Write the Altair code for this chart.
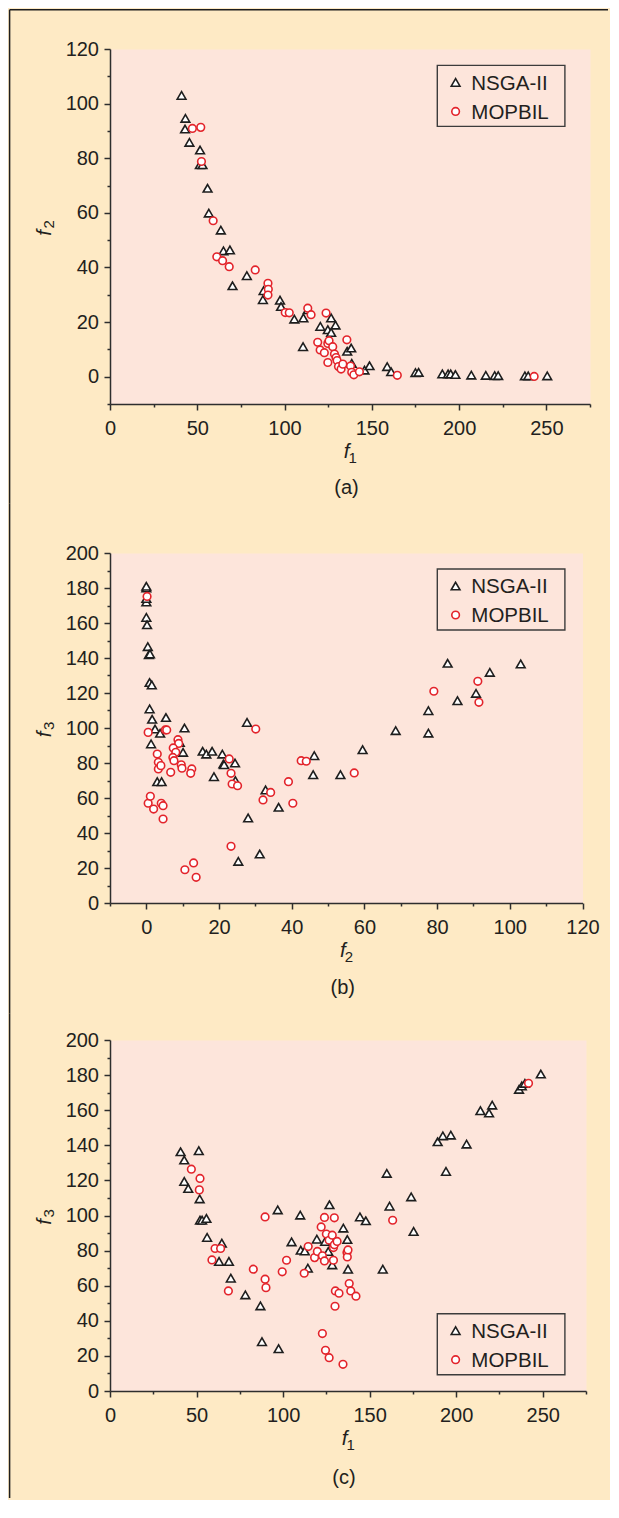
import altair as alt
import pandas as pd

SERIES = ["NSGA-II", "MOPBIL"]

# ---------------- panel (a): f1 vs f2 ----------------
a_nsga_f1 = [41, 43.2, 43, 45.5, 51.6, 51.5, 53, 55.9, 56.6, 63.5, 65, 68.7, 70.2, 78.4, 88,
             87.6, 97.4, 98, 105.6, 110.8, 113.3, 110.6, 120.5, 126.7, 129.2, 124.8, 126.7,
             135.9, 138.2, 138.5, 145.8, 148.7, 158.8, 161.1, 175, 176.8, 190.4, 193.7, 195.2,
             197.9, 207, 215.3, 220.4, 222.4, 237.7, 239.6, 250.5]
a_nsga_f2 = [103, 94.6, 90.7, 85.8, 83, 77.6, 77.6, 69, 59.9, 53.7, 46.1, 46.4, 33.3, 37, 31.5,
             28.2, 28, 25.7, 21.1, 21.5, 24.5, 11, 18.4, 21.5, 18.9, 17.2, 16.2,
             9.3, 10.5, 4.9, 2.4, 4, 3.7, 1.8, 1.5, 1.6, 1, 1, 1,
             0.8, 0.6, 0.5, 0.4, 0.4, 0.3, 0.3, 0.3]
a_mop_f1 = [47.2, 52, 52.4, 59.1, 61.2, 64.5, 68.3, 83.2, 90.5, 90.7, 90.5, 100.4, 102.7, 113.3,
            115.2, 123.8, 119, 120.4, 122.8, 124.8, 125.5, 124.8, 127.6, 128.6, 129.5, 130.1,
            130.9, 132.4, 133.4, 135.7, 137.8, 138.5, 139.7, 142.9, 164.6, 243]
a_mop_f2 = [90.9, 91.3, 78.8, 57.1, 43.9, 42.5, 40.3, 39.1, 34.2, 32, 29.9, 23.5, 23.4, 25.1,
            22.7, 23.3, 12.6, 9.8, 8.8, 12.2, 13.2, 5.2, 11, 8.3, 7, 5.9,
            3.7, 2.8, 4.6, 13.5, 3.9, 1.6, 0.7, 1.8, 0.5, 0.1]

# ---------------- panel (b): f2 vs f3 ----------------
b_nsga_f2 = [0, 0, 0, 0, 0, 0.2, 0.4, 0.7, 1, 0.9, 1.5, 0.9, 1.6, 2.4, 3.8, 1.3, 5.4, 10.5, 9.2,
             10.1, 3, 4.2, 15.5, 16.5, 18.1, 20.9, 21.2, 21.4, 24.4, 24.5, 18.6, 27.7, 28, 32.8,
             36.4, 31.2, 25.3, 46.2, 45.9, 53.4, 59.5, 68.6, 77.6, 77.6, 82.9, 85.6, 90.7, 94.5, 103]
b_nsga_f3 = [180, 181, 172, 174, 163.2, 159, 146.5, 141.9, 142.3, 126, 124.6, 110.9, 105, 99.4,
             97, 90.9, 106, 100, 91.8, 86.1, 69.3, 69.3, 86.7, 85.1, 86.7, 85.1, 79.4, 79, 80,
             69.9, 72.2, 103.2, 48.6, 64.6, 54.7, 28, 23.8, 84.2, 73.3, 73.3, 87.6, 98.5, 109.9,
             97.1, 137, 115.6, 119.8, 131.8, 136.6]
b_mop_f2 = [0.2, 0.5, 3, 3.3, 3.3, 4, 5.2, 5.6, 8.7, 8.9, 7.4, 8.1, 7.3, 7.6, 6.7, 9.6, 9.8, 12.5,
            12.2, 0.5, 1.1, 2, 4.1, 4.6, 4.6, 10.6, 13, 13.7, 22.8, 23.3, 23.6, 25.1, 23.3, 30.1,
            32.1, 34.2, 39.1, 40.3, 42.6, 44, 57.2, 79.1, 91.2, 91.5]
b_mop_f3 = [175.2, 97.5, 85.1, 80.4, 76.6, 78.5, 98.9, 98.9, 93.3, 91.2, 88.6, 86.1, 83.2, 81.3,
            74.7, 79, 77, 76.6, 74.1, 57, 61, 53.7, 57, 55.6, 48, 19, 22.9, 14.7, 82.3, 74.1, 68,
            67, 32.4, 99.4, 58.9, 63.2, 69.3, 57, 81.3, 81, 74.3, 121, 126.7, 114.7]

# ---------------- panel (c): f1 vs f3 ----------------
c_nsga_f1 = [40.8, 42.9, 42.9, 45.2, 51.3, 51.8, 52, 53.2, 55.7, 56.1, 64.6, 63, 68.7, 69.8, 78.2,
             86.9, 87.8, 97.4, 96.9, 109.9, 104.9, 110.2, 112.5, 114.3, 119.5, 124.3, 126.8, 126.1,
             128.4, 134.8, 137.1, 137.5, 144.4, 147.8, 157.6, 159.9, 161.5, 174, 175.4, 189.3,
             192.3, 196.9, 194.1, 206, 214, 219, 220.8, 236.3, 237.9, 239.7, 248.9]
c_nsga_f3 = [136.3, 131.6, 119.4, 115.4, 136.9, 109.5, 97.3, 97.3, 98.3, 87.5, 84.2, 73.8, 73.8,
             64.3, 54.8, 48.5, 28.1, 24.1, 103.2, 100.2, 85, 80.2, 79.8, 70, 86.5, 85.2, 106.1,
             79.5, 71.9, 92.8, 86.3, 69.4, 99.2, 97, 69.4, 124, 105.3, 110.6, 90.9, 142, 145.4,
             145.8, 125.1, 140.7, 159.7, 158.4, 162.9, 171.9, 173.8, 175.3, 180.6]
c_mop_f1 = [47, 52, 51.6, 60.7, 63.9, 58.9, 68.4, 82.8, 89.6, 89.6, 90.1, 99.5, 102, 112.2, 114.5,
            118.2, 119.8, 122, 122.7, 123.9, 123.9, 125, 126.6, 128.4, 129.6, 129.1, 129.6, 131.2,
            129.1, 130.2, 132.3, 130, 136.9, 137.1, 137.5, 138.2, 139.1, 142.1, 122.7, 124.5,
            126.6, 134.6, 163.3, 241.8]
c_mop_f3 = [126.4, 121.1, 114.6, 81.2, 81.2, 74.7, 57, 69.4, 99.2, 63.7, 58.9, 67.9, 74.5, 67.1,
            82.3, 76, 79.5, 93.5, 77, 74.1, 98.9, 89.4, 85.9, 88.8, 98.7, 81.7, 83.3, 85.2, 74.5,
            57, 55.7, 48.3, 78.9, 76.4, 80.4, 61.2, 57, 54, 32.7, 23.2, 19, 15.2, 97.3, 175.3]

# ---------------- axis ticks ----------------
ticks_f1 = list(range(0, 276, 25))          # labels every 50
ticks_f2_a = list(range(-10, 121, 10))      # labels every 20
ticks_f2_b = list(range(-10, 121, 10))
ticks_f3 = list(range(0, 201, 10))

BG = "#FEEAC5"
PLOT_BG = "#FDE5DB"
INK = "#231F20"
AXIS = "#2E2E2E"
RED = "#E3242B"
BLACK = "#1E1E1E"
FONT = "Liberation Sans"

SHAPE_SCALE = alt.Scale(domain=SERIES, range=["triangle-up", "circle"])
STROKE_SCALE = alt.Scale(domain=SERIES, range=[BLACK, RED])
SIZE_SCALE = alt.Scale(domain=SERIES, range=[76, 58])


def make_df(nx, ny, mx, my):
    rows = [{"x": a, "y": b, "series": SERIES[0]} for a, b in zip(nx, ny)]
    rows += [{"x": a, "y": b, "series": SERIES[1]} for a, b in zip(mx, my)]
    return pd.DataFrame(rows)


def tick_size(major):
    return {"condition": {"test": f"datum.value % {major} !== 0", "value": 3}, "value": 6}


def label_expr(major):
    return f"datum.value % {major} === 0 ? datum.label : ''"


ONE = pd.DataFrame({"t": [""]})


def txt(s, x, y, size, italic=False, angle=0, align="center"):
    kw = dict(font=FONT, fontSize=size, color=INK, align=align, baseline="alphabetic")
    if italic:
        kw["fontStyle"] = "italic"
    if angle:
        kw["angle"] = angle
    return alt.Chart(pd.DataFrame({"t": [s]})).mark_text(**kw).encode(
        text="t:N", x=alt.value(x), y=alt.value(y))


def legend_layers(lx, ly):
    """Legend box drawn from the same shape/stroke scales as the data."""
    out = [alt.Chart(ONE).mark_rect(fill=PLOT_BG, stroke="#3C3C3C", strokeWidth=1.4).encode(
        x=alt.value(lx), x2=alt.value(lx + 127.6), y=alt.value(ly), y2=alt.value(ly + 61))]
    for i, name in enumerate(SERIES):
        ry = ly + 17 + 29 * i
        sym = alt.Chart(pd.DataFrame({"series": [name]})).mark_point(
            filled=False, fill="white", fillOpacity=1, opacity=1, strokeWidth=1.6
        ).encode(
            x=alt.value(lx + 18.3), y=alt.value(ry),
            shape=alt.Shape("series:N", scale=SHAPE_SCALE, legend=None),
            stroke=alt.Stroke("series:N", scale=STROKE_SCALE, legend=None),
            size=alt.Size("series:N", scale=SIZE_SCALE, legend=None),
        )
        out.append(sym)
        out.append(txt(name, lx + 34, ry + 7.2, 20.5, align="left"))
    return out


def panel(df, xdom, ydom, xticks, yticks, xmajor, ymajor, xsub, ysub, caption, w, h,
          leg_y, top, bottom, frame_top, cap_center, cap_dx):
    pts = alt.Chart(df).mark_point(
        filled=False, fill="white", fillOpacity=1, opacity=1, strokeWidth=1.6
    ).encode(
        x=alt.X("x:Q", scale=alt.Scale(domain=xdom, nice=False, zero=False),
                axis=alt.Axis(values=xticks, labelExpr=label_expr(xmajor),
                              tickSize=tick_size(xmajor), title=None, labelPadding=8)),
        y=alt.Y("y:Q", scale=alt.Scale(domain=ydom, nice=False, zero=False),
                axis=alt.Axis(values=yticks, labelExpr=label_expr(ymajor),
                              tickSize=tick_size(ymajor), title=None, labelPadding=5.5)),
        shape=alt.Shape("series:N", scale=SHAPE_SCALE, legend=None),
        stroke=alt.Stroke("series:N", scale=STROKE_SCALE, legend=None),
        size=alt.Size("series:N", scale=SIZE_SCALE, legend=None),
    )
    L = -100.4
    layers = []
    if frame_top:
        layers.append(alt.Chart(ONE).mark_rule(color=BLACK, strokeWidth=1.5).encode(
            x=alt.value(L), x2=alt.value(498), y=alt.value(top), y2=alt.value(top)))
    layers.append(alt.Chart(ONE).mark_rule(color=BLACK, strokeWidth=1.5).encode(
        x=alt.value(L), x2=alt.value(L), y=alt.value(top), y2=alt.value(bottom)))
    layers.append(pts)
    layers += legend_layers(327.3, leg_y)
    cx = w / 2
    cy = h / 2
    layers += [
        txt("f", cx - 3.5, h + 54, 20.5, italic=True),
        txt(xsub, cx - 1.5, h + 58.5, 15, align="left"),
        txt("f", -59.5, cy + 6.5, 20.5, italic=True, angle=270),
        txt(ysub, -56, cy + 2, 15, angle=270, align="left"),
        txt(caption, cx + cap_dx, h + cap_center + 5.5, 20),
    ]
    return alt.layer(*layers).properties(width=w, height=h)


pa = panel(make_df(a_nsga_f1, a_nsga_f2, a_mop_f1, a_mop_f2), [0, 275], [-10, 120],
           ticks_f1, ticks_f2_a, 50, 20, "1", "2", "(a)", 480, 355,
           16.4, -39.3, 454.7, True, 84.7, -3.5)
pb = panel(make_df(b_nsga_f2, b_nsga_f3, b_mop_f2, b_mop_f3), [-10, 120], [0, 200],
           ticks_f2_b, ticks_f3, 20, 20, "2", "3", "(b)", 472.5, 350,
           16.0, -49.3, 460.7, False, 85.7, -3.5)
pc = panel(make_df(c_nsga_f1, c_nsga_f3, c_mop_f1, c_mop_f3), [0, 275], [0, 200],
           ticks_f1, ticks_f3, 50, 20, "1", "3", "(c)", 476, 351,
           273.7, -26.3, 458.0, False, 87.0, -4)

chart = alt.vconcat(pa, pb, pc, spacing=-3).properties(
    padding={"left": 0, "top": 0, "right": 0, "bottom": 0}
).configure(
    background=BG
).configure_view(
    fill=PLOT_BG, stroke="transparent"
).configure_axis(
    domainColor=AXIS, domainWidth=1.5, tickColor=AXIS, tickWidth=1.5,
    labelFont=FONT, labelFontSize=20, labelColor=INK, grid=False,
    labelFlush=False, labelOverlap=False
)

chart.save("out.html", embed_options={"renderer": "svg", "actions": False})
